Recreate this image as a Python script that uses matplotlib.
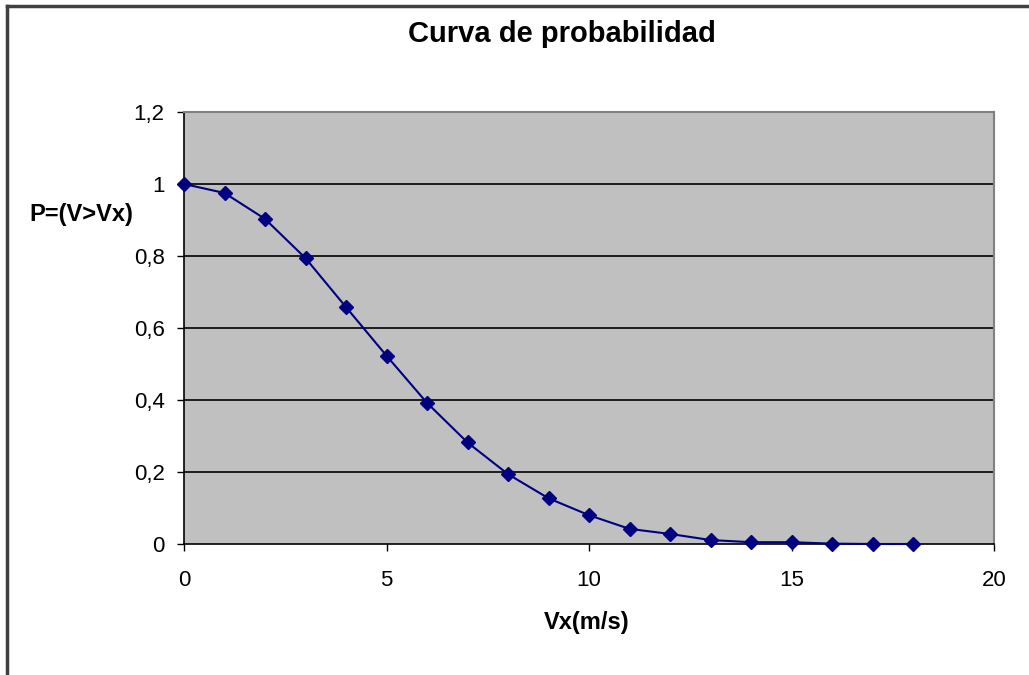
import matplotlib
matplotlib.use("Agg")
import matplotlib.pyplot as plt
from matplotlib.ticker import FuncFormatter
from matplotlib.lines import Line2D

vx = [0, 1, 2, 3, 4, 5, 6, 7, 8, 9, 10, 11, 12, 13, 14, 15, 16, 17, 18]
prob = [1.0, 0.975, 0.903, 0.794, 0.658, 0.523, 0.392, 0.282, 0.194, 0.127,
        0.080, 0.042, 0.028, 0.011, 0.005, 0.005, 0.001, 0.0, 0.0]
yticks = [0, 0.2, 0.4, 0.6, 0.8, 1.0, 1.2]
xticks = [0, 5, 10, 15, 20]

plt.rcParams['font.family'] = ['Liberation Sans', 'DejaVu Sans']

fig = plt.figure(figsize=(10.29, 6.75), dpi=100)
ax = fig.add_axes([184/1029, 1-544/675, (994-184)/1029, (544-112)/675])
ax.set_facecolor('#c0c0c0')
ax.set_xlim(0, 20)
ax.set_ylim(0, 1.2)
ax.set_yticks(yticks)
ax.set_xticks(xticks)
ax.yaxis.set_major_formatter(FuncFormatter(lambda v, p: ('%g' % round(v, 1)).replace('.', ',')))
ax.xaxis.set_major_formatter(FuncFormatter(lambda v, p: '%g' % v))
for yv in yticks[1:-1]:
    ax.axhline(yv, color='black', lw=1.2, zorder=1)
ax.plot(vx, prob, color='#000080', lw=1.5, marker='D', markersize=7,
        markerfacecolor='#000080', markeredgecolor='#000080', zorder=3, clip_on=False)
for s in ['top', 'right']:
    ax.spines[s].set_color('#808080')
    ax.spines[s].set_linewidth(1.5)
for s in ['left', 'bottom']:
    ax.spines[s].set_color('black')
    ax.spines[s].set_linewidth(1.2)
ax.tick_params(axis='both', direction='out', length=5, width=1, labelsize=16, colors='black')
ax.tick_params(axis='x', pad=14)
ax.tick_params(axis='y', pad=9)

fig.text(562/1029, 1-34/675, 'Curva de probabilidad', ha='center', va='center',
         fontsize=21, fontweight='bold')
fig.text(81/1029, 1-215/675, 'P=(V>Vx)', ha='center', va='center',
         fontsize=17, fontweight='bold')
fig.text(587/1029, 1-623/675, 'Vx(m/s)', ha='center', va='center',
         fontsize=17, fontweight='bold')

# outer chart frame (left and top edges)
fig.add_artist(Line2D([7/1029, 7/1029], [0, 1-6/675], transform=fig.transFigure,
                      color='#404040', lw=2.5))
fig.add_artist(Line2D([7/1029, 1], [1-6/675, 1-6/675], transform=fig.transFigure,
                      color='#404040', lw=2.5))

fig.savefig('out.png', dpi=100)
